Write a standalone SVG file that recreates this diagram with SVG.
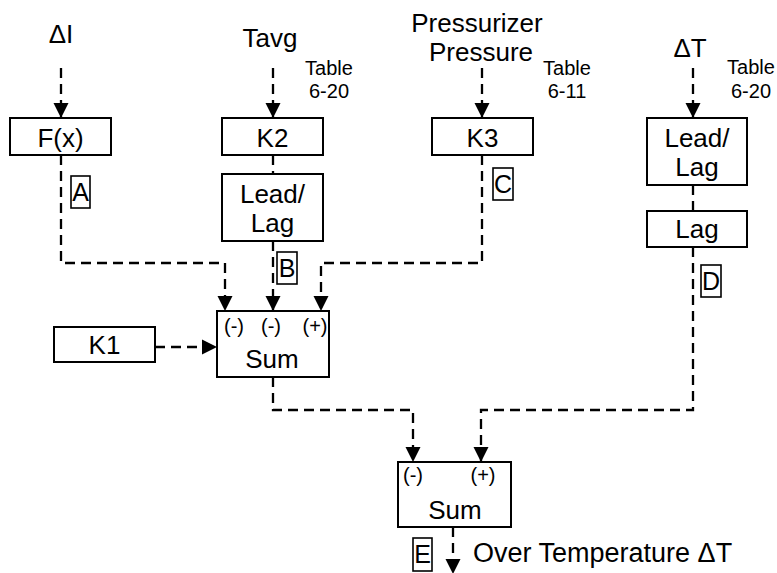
<svg xmlns="http://www.w3.org/2000/svg" width="777" height="573" viewBox="0 0 777 573">
<style>
.box{fill:#fff;stroke:#000;stroke-width:2}
.lbl{fill:#fff;stroke:#000;stroke-width:1.6}
text{font-family:"Liberation Sans",Arial,sans-serif;fill:#000}
.t{font-size:26px;text-anchor:middle}
.s{font-size:20px;text-anchor:middle}
.tb{font-size:20px;text-anchor:middle}
.l{font-size:25px;text-anchor:middle}
.c{fill:none;stroke:#000;stroke-width:2.3;stroke-dasharray:10,6}
</style>
<defs>
<marker id="ah" markerUnits="userSpaceOnUse" markerWidth="16" markerHeight="16" refX="15" refY="8" orient="auto" viewBox="0 0 16 16">
<path d="M0,0.5 L15,8 L0,15.5 z" fill="#000"/>
</marker>
</defs>
<rect width="777" height="573" fill="#fff"/>
<g id="connectors">
<path class="c" d="M61,68 V118" marker-end="url(#ah)"/>
<path class="c" d="M273,68 V118" marker-end="url(#ah)"/>
<path class="c" d="M482,68 V118" marker-end="url(#ah)"/>
<path class="c" d="M693,68 V118" marker-end="url(#ah)"/>
<path class="c" d="M273,155 V174"/>
<path class="c" d="M61,155 V263 H225 V311" marker-end="url(#ah)"/>
<path class="c" d="M273,241 V311" marker-end="url(#ah)"/>
<path class="c" d="M482,155 V263 H321 V311" marker-end="url(#ah)"/>
<path class="c" d="M155,347 H217" marker-end="url(#ah)"/>
<path class="c" d="M693,185 V211"/>
<path class="c" d="M693,247 V410 H481 V462" marker-end="url(#ah)"/>
<path class="c" d="M273,377 V410 H413 V462" marker-end="url(#ah)"/>
<path class="c" d="M453,527 V574" marker-end="url(#ah)"/>
</g>
<g id="in-dI"><text class="t" x="61" y="43">ΔI</text></g>
<g id="in-tavg"><text class="t" x="270" y="47">Tavg</text>
<text class="tb" x="329" y="75">Table</text><text class="tb" x="329" y="98">6-20</text></g>
<g id="in-press"><text class="t" x="477" y="32">Pressurizer</text><text class="t" x="481" y="61">Pressure</text>
<text class="tb" x="567" y="75">Table</text><text class="tb" x="567" y="98">6-11</text></g>
<g id="in-dT"><text class="t" x="690" y="57">ΔT</text>
<text class="tb" x="751" y="74">Table</text><text class="tb" x="751" y="98">6-20</text></g>
<g id="fx"><rect class="box" x="10" y="118" width="101" height="37"/><text class="t" x="60.5" y="147">F(x)</text></g>
<g id="k2"><rect class="box" x="222" y="118" width="101" height="37"/><text class="t" x="272.5" y="147">K2</text></g>
<g id="k3"><rect class="box" x="432" y="118" width="101" height="37"/><text class="t" x="482.5" y="147">K3</text></g>
<g id="leadlag1"><rect class="box" x="222" y="174" width="101" height="67"/><text class="t" x="272.5" y="203">Lead/</text><text class="t" x="272.5" y="232">Lag</text></g>
<g id="leadlag2"><rect class="box" x="647" y="118" width="100" height="67"/><text class="t" x="697" y="147">Lead/</text><text class="t" x="697" y="176">Lag</text></g>
<g id="lag"><rect class="box" x="647" y="211" width="100" height="36"/><text class="t" x="697" y="238">Lag</text></g>
<g id="k1"><rect class="box" x="54" y="327" width="101" height="35"/><text class="t" x="104.5" y="354">K1</text></g>
<g id="sum1"><rect class="box" x="217" y="311" width="112" height="66"/>
<text class="s" x="234" y="333">(-)</text><text class="s" x="271" y="333">(-)</text><text class="s" x="315" y="333">(+)</text>
<text class="t" x="272" y="368">Sum</text></g>
<g id="sum2"><rect class="box" x="398" y="462" width="113" height="65"/>
<text class="s" x="413" y="482">(-)</text><text class="s" x="483" y="482">(+)</text>
<text class="t" x="455" y="519">Sum</text></g>
<g id="lblA"><rect class="lbl" x="71" y="176" width="19" height="32"/><text class="l" x="80.5" y="201">A</text></g>
<g id="lblB"><rect class="lbl" x="277" y="252" width="20" height="32"/><text class="l" x="287" y="277">B</text></g>
<g id="lblC"><rect class="lbl" x="493" y="168" width="20" height="32"/><text class="l" x="503" y="193">C</text></g>
<g id="lblD"><rect class="lbl" x="701" y="265" width="20" height="32"/><text class="l" x="711" y="290">D</text></g>
<g id="lblE"><rect class="lbl" x="413" y="538" width="19" height="33"/><text class="l" x="422.5" y="563">E</text></g>
<g id="out"><text x="473" y="562" style="font-size:27px">Over Temperature ΔT</text></g>
</svg>
